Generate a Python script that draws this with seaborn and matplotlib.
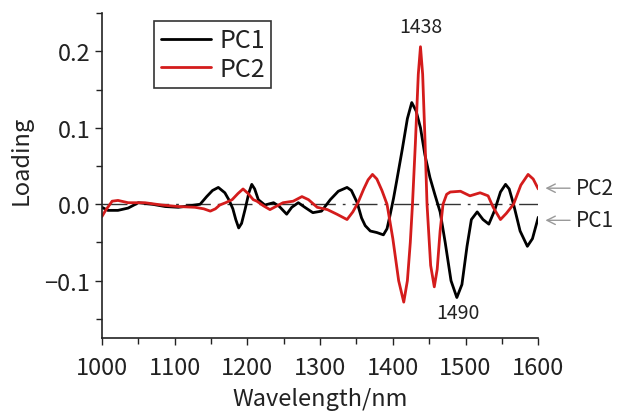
import numpy as np
import pandas as pd
import matplotlib
matplotlib.use('Agg')
import matplotlib.pyplot as plt
import seaborn as sns
from matplotlib.ticker import MultipleLocator

# loading curves (wavelength in nm, loading value)
pc1_nm = [1000, 1008, 1022, 1036, 1050, 1069, 1087, 1105, 1128, 1135, 1144, 1152, 1160,
          1169, 1175, 1180, 1184, 1188, 1192, 1197, 1202, 1206, 1210, 1215, 1224, 1236,
          1244, 1254, 1261, 1270, 1279, 1290, 1302, 1314, 1325, 1337, 1343, 1351, 1357,
          1362, 1369, 1378, 1387, 1392, 1396, 1401, 1405, 1413, 1420, 1426, 1432, 1438,
          1444, 1451, 1458, 1465, 1472, 1480, 1488, 1495, 1502, 1508, 1516, 1524, 1532,
          1540, 1548, 1555, 1560, 1566, 1575, 1585, 1592, 1600]
pc1_val = [-0.004, -0.008, -0.008, -0.005, 0.002, 0.0, -0.003, -0.004, -0.001, 0.0, 0.01,
           0.018, 0.022, 0.015, 0.005, -0.006, -0.02, -0.031, -0.025, -0.006, 0.015, 0.026,
           0.02, 0.006, -0.001, 0.002, -0.003, -0.013, -0.004, 0.002, -0.004, -0.011,
           -0.009, 0.006, 0.017, 0.022, 0.018, 0.002, -0.018, -0.028, -0.035, -0.037, -0.04,
           -0.032, -0.015, 0.008, 0.029, 0.072, 0.112, 0.133, 0.122, 0.1, 0.065, 0.035,
           0.012, -0.01, -0.05, -0.1, -0.122, -0.105, -0.055, -0.02, -0.01, -0.02, -0.026,
           -0.008, 0.016, 0.026, 0.02, 0.0, -0.035, -0.055, -0.045, -0.017]

pc2_nm = [1000, 1005, 1014, 1022, 1036, 1059, 1082, 1105, 1128, 1140, 1149, 1156, 1162,
          1170, 1179, 1187, 1194, 1201, 1208, 1213, 1222, 1231, 1241, 1249, 1263, 1275,
          1284, 1296, 1310, 1323, 1337, 1345, 1352, 1360, 1366, 1372, 1378, 1385, 1392,
          1400, 1408, 1415, 1420, 1424, 1427, 1431, 1435, 1438, 1441, 1444, 1447, 1452,
          1457, 1461, 1465, 1469, 1474, 1479, 1493, 1506, 1520, 1531, 1538, 1548, 1556,
          1566, 1576, 1586, 1593, 1600]
pc2_val = [-0.016, -0.008, 0.004, 0.005, 0.002, 0.002, -0.001, -0.003, -0.004, -0.006,
           -0.009, -0.006, -0.001, 0.002, 0.006, 0.014, 0.02, 0.014, 0.006, 0.004, -0.002,
           -0.007, -0.002, 0.002, 0.004, 0.01, 0.006, -0.004, -0.007, -0.013, -0.02, -0.01,
           0.002, 0.02, 0.032, 0.039, 0.033, 0.018, 0.0, -0.045, -0.1, -0.128, -0.1, -0.05,
           0.0, 0.08, 0.17, 0.206, 0.17, 0.09, 0.0, -0.08, -0.108, -0.085, -0.035, 0.0,
           0.013, 0.016, 0.017, 0.011, 0.015, 0.011, -0.004, -0.02, -0.012, 0.0, 0.025,
           0.039, 0.033, 0.02]

peak_labels = ['1438', '1490']
peak_pos = [(1438, 0.233), (1490, -0.142)]

sns.set_style('ticks')
plt.rcParams['font.family'] = ['Noto Sans CJK JP', 'DejaVu Sans']
plt.rcParams['axes.unicode_minus'] = True
plt.rcParams['text.color'] = '#222222'
plt.rcParams['axes.labelcolor'] = '#222222'
plt.rcParams['xtick.color'] = '#222222'
plt.rcParams['ytick.color'] = '#222222'

fig = plt.figure(figsize=(6.18, 4.14), dpi=100)
ax = fig.add_axes([0.165, 0.181, 0.706, 0.785])

# zero reference line
ax.plot([1000, 1600], [0, 0], color='#333333', lw=1.0, dashes=(18, 5, 2, 5))

sns.lineplot(x=pc1_nm, y=pc1_val, color='black', lw=2.0, label='PC1',
             sort=False, estimator=None, ax=ax)
sns.lineplot(x=pc2_nm, y=pc2_val, color='#d41c1c', lw=2.0, label='PC2',
             sort=False, estimator=None, ax=ax)

ax.set_xlim(1000, 1600)
ax.set_ylim(-0.175, 0.25)
ax.xaxis.set_major_locator(MultipleLocator(100))
ax.xaxis.set_minor_locator(MultipleLocator(50))
ax.yaxis.set_minor_locator(MultipleLocator(0.05))
ax.set_yticks([-0.1, 0.0, 0.1, 0.2])
ax.set_yticklabels(['\u22120.1', '0.0', '0.1', '0.2'])
ax.tick_params(which='major', length=5, width=1, labelsize=17)
ax.tick_params(axis='x', which='major', pad=8)
ax.tick_params(which='minor', length=4, width=1)
sns.despine(ax=ax)
for s in ['left', 'bottom']:
    ax.spines[s].set_linewidth(1.2)
    ax.spines[s].set_color('#222222')

ax.set_xlabel('Wavelength/nm', fontsize=17, labelpad=6)
ax.set_ylabel('Loading', fontsize=17)
ax.yaxis.set_label_coords(-0.16, 0.55)

leg = ax.legend(loc='upper left', bbox_to_anchor=(0.12, 0.975), fontsize=18,
                frameon=True, fancybox=False, handlelength=2.0, borderpad=0.25,
                labelspacing=0.1, handletextpad=0.35, borderaxespad=0)
leg.get_frame().set_edgecolor('black')
leg.get_frame().set_linewidth(1.2)

for txt, (xx, yy) in zip(peak_labels, peak_pos):
    ax.text(xx, yy, txt, fontsize=14, ha='center', va='center')

# side labels with arrows
ax.annotate('PC2', xy=(1606, 0.021), xytext=(1652, 0.021), fontsize=15,
            va='center', ha='left', annotation_clip=False,
            arrowprops=dict(arrowstyle='->', color='#999999', lw=1.0))
ax.annotate('PC1', xy=(1606, -0.021), xytext=(1652, -0.021), fontsize=15,
            va='center', ha='left', annotation_clip=False,
            arrowprops=dict(arrowstyle='->', color='#999999', lw=1.0))

fig.savefig('out.png', dpi=100)
